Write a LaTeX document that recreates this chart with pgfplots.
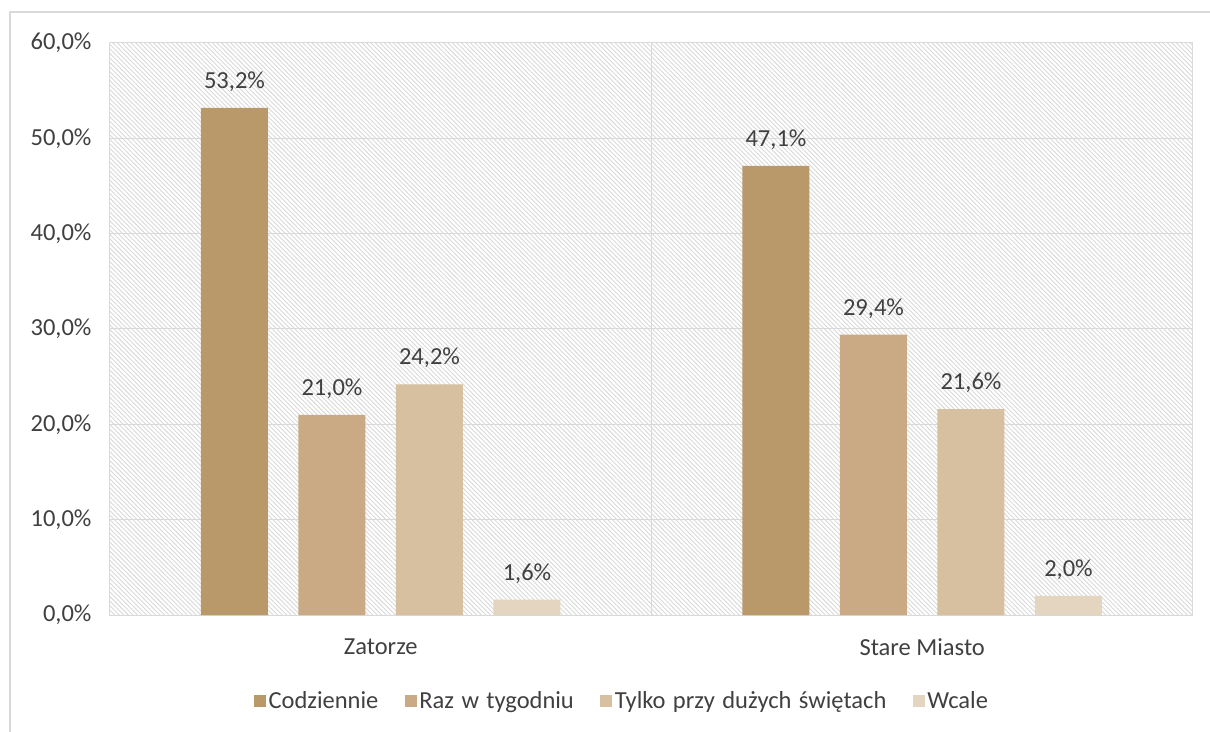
\documentclass[border=0pt]{standalone}
\usepackage{pgfplots}
\pgfplotsset{compat=1.18}
\usepackage{fontspec}
\setmainfont{Carlito}
\usetikzlibrary{patterns.meta}
\definecolor{c1}{HTML}{B9986A}
\definecolor{c2}{HTML}{C9AA84}
\definecolor{c3}{HTML}{D6C0A0}
\definecolor{c4}{HTML}{E3D5C0}
\definecolor{gridc}{HTML}{D9D9D9}
\definecolor{txt}{HTML}{404040}
\begin{document}
\begin{tikzpicture}[x=1pt,y=1pt]
\useasboundingbox (0,0) rectangle (1210,731);
\fill[white] (0,0) rectangle (1210,731);
\draw[gridc,line width=2pt] (10,-5) -- (10,719) -- (1220,719);
\begin{axis}[
  at={(110pt,116pt)}, anchor=south west,
  scale only axis, width=1083pt, height=572pt,
  xmin=-0.5, xmax=1.5, ymin=0, ymax=60,
  ybar=30.5pt, bar width=67pt,
  font=\fontsize{24.5}{29}\selectfont\color{txt},
  axis background/.style={pattern={Lines[angle=-45,distance=3.2pt,line width=0.9pt]}, pattern color=gridc},
  axis line style={draw=gridc, line width=1pt},
  major tick length=0pt,
  ymajorgrids, grid style={draw=gridc, line width=1pt},
  ytick={0,10,...,60},
  /pgf/number format/assume math mode=true,
  yticklabel={\pgfmathprintnumber[fixed,fixed zerofill,precision=1,use comma]{\tick}\%},
  yticklabel style={xshift=-15pt, text=txt},
  xtick={0,1}, xticklabels={Zatorze, Stare Miasto},
  xticklabel style={yshift=-20pt, text=txt},
  extra x ticks={0.5}, extra x tick labels={}, extra x tick style={grid=major},
  nodes near coords={\pgfmathprintnumber[fixed,fixed zerofill,precision=1,use comma]{\pgfplotspointmeta}\%},
  nodes near coords style={anchor=south, inner sep=0pt, yshift=16pt, text=txt},
  legend style={at={(0.473,-0.150)}, anchor=center, draw=none, fill=none, inner sep=0pt,
    nodes={inner sep=2.5pt, text=txt, execute at begin node={\spaceskip=0.3em\relax}},
    /tikz/every even column/.append style={column sep=24pt}},
  legend columns=4,
  legsq/.style={legend image code/.code={\fill[##1,draw=none] (0pt,-6pt) rectangle (12pt,6pt);}},
  clip=false,
]
\addplot[fill=c1, draw=none, legsq] coordinates {(0,53.2) (1,47.1)};
\addplot[fill=c2, draw=none, legsq] coordinates {(0,21.0) (1,29.4)};
\addplot[fill=c3, draw=none, legsq] coordinates {(0,24.2) (1,21.6)};
\addplot[fill=c4, draw=none, legsq] coordinates {(0,1.6) (1,2.0)};
\legend{Codziennie, Raz w tygodniu, Tylko przy dużych świętach, Wcale}
\end{axis}
\end{tikzpicture}
\end{document}
